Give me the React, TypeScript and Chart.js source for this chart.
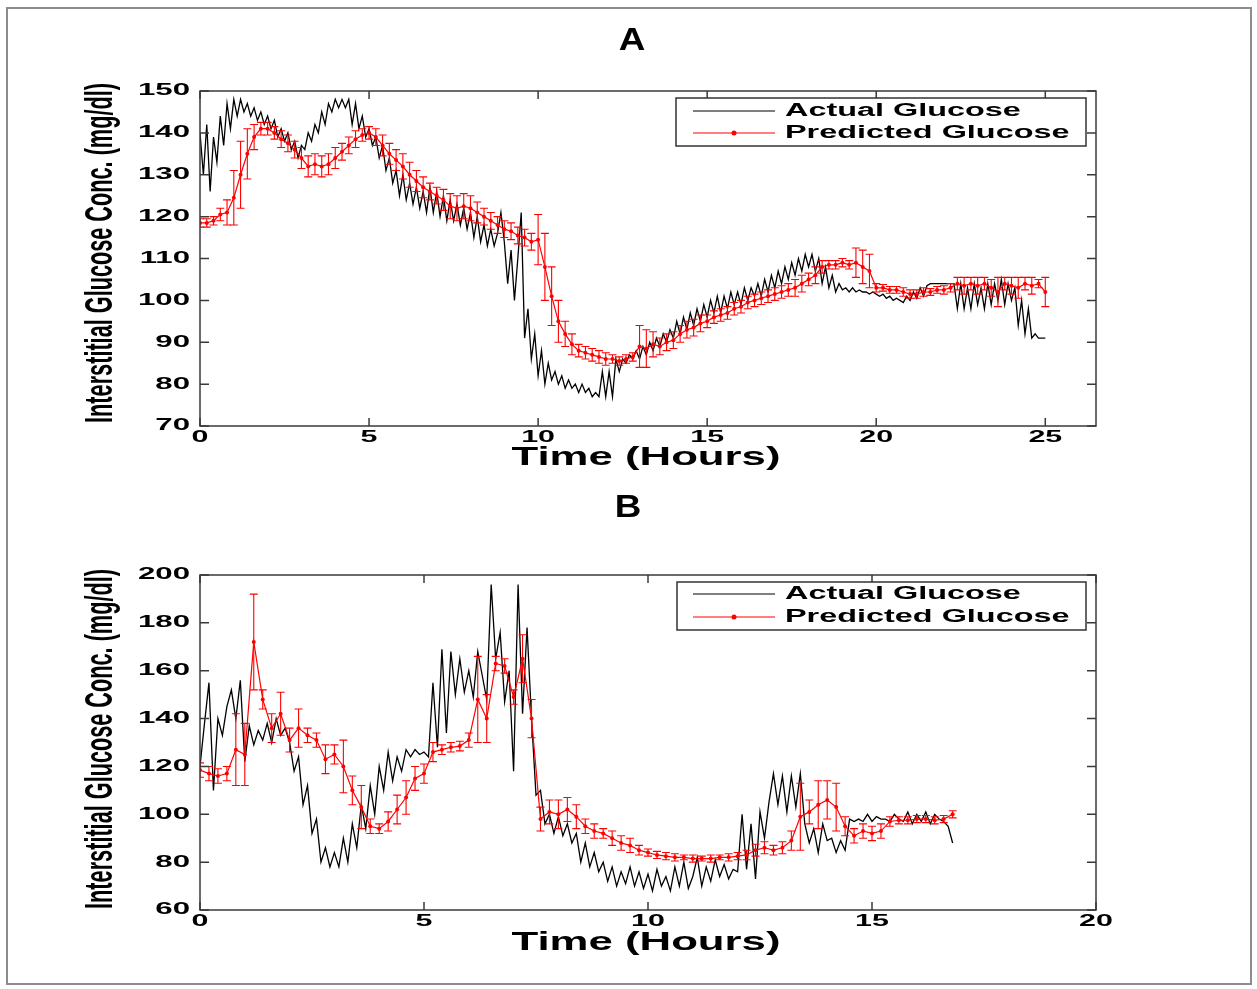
import React, { useEffect, useRef } from "react";
import { Chart, registerables } from "chart.js";

Chart.register(...registerables);

// ---------------- DATA ----------------
const STEP_ACTUAL = 0.1; // hours between actual samples
const STEP_PRED = 0.2; // hours between predicted samples

const actualA = [
  140, 130, 142, 126, 139, 133, 144, 137, 147, 141,
  148, 144, 148, 145, 147, 144, 146, 143, 145, 142,
  144, 141, 143, 139, 141, 138, 140, 136, 138, 134,
  137, 136, 140, 138, 142, 140, 145, 142, 147, 145,
  148, 146, 148, 146, 148, 142, 147, 141, 144, 139,
  141, 137, 139, 134, 137, 131, 134, 128, 131, 125,
  130, 124, 128, 123, 127, 122, 126, 121, 127, 121,
  126, 120, 125, 119, 124, 119, 123, 118, 122, 117,
  121, 115, 120, 114, 118, 113, 117, 113, 116, 121,
  114, 104, 112, 100, 110, 121, 91, 98, 86, 92,
  82, 88, 80, 85, 81, 83, 80, 82, 79, 81,
  79, 80, 78, 80, 78, 79, 77, 78, 77, 83,
  77, 83, 77, 86, 83, 86, 85, 87, 86, 88,
  86, 89, 87, 90, 88, 91, 89, 92, 90, 93,
  91, 95, 92, 96, 93, 97, 94, 98, 95, 99,
  96, 100, 97, 101, 97, 101, 98, 102, 99, 102,
  99, 103, 100, 103, 101, 104, 101, 105, 102, 106,
  103, 107, 104, 108, 105, 109, 106, 110, 107, 111,
  108, 111, 107, 110, 104, 108, 103, 106, 102, 104,
  102.5, 103, 102, 103, 102, 102.5, 102, 102, 101.5, 102,
  101.5, 101, 101.5, 100.5, 101, 100, 100.5, 100, 99.5, 101,
  100, 102, 100.5, 103, 101, 103.5, 104, 104, 104, 104,
  104, 104, 104, 104, 98, 104, 98, 103, 98, 104,
  99, 103, 98, 104, 99, 104, 100, 105, 99, 104,
  100, 103, 94, 100, 92, 98, 91, 92, 91, 91,
  91,
];

const predA = [
  118.5, 118.5, 119, 120.5, 121, 124.5, 130, 135, 139, 141,
  141, 140, 138.5, 137.5, 136, 134, 132, 132.5, 132, 132.5,
  134, 135.5, 137, 138.5, 139.5, 140, 139, 137, 135, 133.5,
  132, 130, 128.5, 127, 126, 125, 124, 122.5, 122, 122.5,
  122, 121, 120, 119, 118, 117, 116.5, 115.5, 115, 114,
  114.5, 108, 101, 95, 92, 89.5, 88, 87.5, 87, 86.5,
  86, 86, 85.5, 86, 86.5, 89, 88.5, 89.5, 89, 90,
  90.5, 92, 93, 93.5, 94.5, 95, 96, 96.5, 97, 98,
  98.5, 99.5, 100, 100.5, 101, 101.5, 102, 102.5, 103, 104,
  105, 106, 108, 108.5, 108.5, 109, 108.5, 109, 108, 107,
  103, 103, 102.5, 102.5, 102, 101.5, 101.5, 102, 102, 102.5,
  102.5, 103, 104, 103.5, 104, 103.5, 104, 103, 102, 104,
  103.5, 103, 104, 103.5, 104, 102,
];

const errA = [
  1, 1, 1, 1.5, 3, 6.5, 8, 6, 3, 1.5,
  1.5, 1.5, 2, 2, 2, 2.5, 2.5, 2.5, 2.5, 2.5,
  2.5, 2, 2, 2, 1.5, 1.5, 2, 2.5, 2.5, 2.5,
  3, 3, 2.5, 2.5, 2, 2, 2.5, 3, 3, 3,
  3, 2.5, 2, 2, 2, 2, 2, 2, 2, 2,
  6, 8, 7, 5, 3, 2.5, 1.5, 1.5, 1.5, 1.5,
  1.5, 1, 1, 1, 1, 5, 4.5, 3, 2, 2,
  2, 2, 2, 2, 2, 1.5, 1.5, 1.5, 1.5, 1.5,
  1.5, 1.5, 1.5, 1.5, 1.5, 1.5, 1.5, 1.5, 2, 2,
  1.5, 2, 1.5, 1, 1, 1, 1, 3.5, 4, 4,
  1, 0.8, 0.8, 0.8, 1, 1, 1, 1, 0.8, 0.8,
  1, 1, 1.5, 2, 1.5, 2, 1.5, 2, 3.5, 1.5,
  2, 2.5, 1.5, 2, 1, 3.5,
];

const actualB = [
  120, 138, 155, 110, 140, 133, 145, 152, 140, 156,
  122, 137, 129, 135, 131, 138, 130, 140, 133, 136,
  130, 118, 124, 104, 112, 92, 98, 80, 86, 78,
  84, 78, 90, 80, 96, 86, 104, 94, 112, 100,
  120, 110, 126, 114, 124, 118, 127, 124, 127, 125,
  126, 124, 155, 128, 169, 134, 168, 150, 165, 151,
  160, 149, 168, 158, 148, 196, 165, 176, 147, 160,
  118, 196, 142, 178, 140, 108, 110, 96, 100, 92,
  99, 91, 96, 88, 92, 80, 88, 78, 84, 76,
  80, 72, 78, 70, 76, 71, 78, 70, 76, 69,
  75, 68, 77, 70, 74, 68, 78, 70, 80, 69,
  74, 82, 70, 78, 72, 81, 74, 79, 73, 77,
  76, 100, 77, 96, 73, 101, 90, 105, 117, 104,
  116, 101, 116, 103, 117, 96, 88, 94, 84, 96,
  89, 90, 84, 89, 85, 98, 97, 98, 97, 100,
  97, 99, 98, 98, 97, 100, 98, 97, 101, 96,
  100, 97, 101, 96, 100, 98, 97, 95, 88,
];

const predB = [
  118.5, 117, 116, 117, 127, 125, 172, 148, 136, 142,
  131, 136, 133, 131, 123, 125, 120, 110, 103, 95,
  94, 97, 102, 107, 115, 117, 126, 127, 128, 128.5,
  131, 148, 140, 163, 162, 149, 165, 140, 98, 101,
  100, 102, 99, 95, 93, 92, 90, 88, 87, 85,
  84, 83, 82.5, 82, 82, 81.5, 81.5, 81.5, 82, 82,
  82.5, 83, 85, 86, 85, 86, 89, 99, 101, 104,
  106, 103, 95, 91, 93, 92, 93, 97, 97.5, 97.5,
  98, 98, 97.5, 98, 100,
];

const errB = [
  3, 3, 3, 3, 15, 13, 20, 4, 6, 9,
  5, 8, 3, 3, 6, 4, 11, 6, 9, 3,
  2, 4, 6, 7, 5, 4, 4, 2, 2, 2,
  3, 18, 10, 3, 3, 3, 10, 8, 5, 5,
  6, 5, 5, 3, 3, 2, 3, 3, 3, 2,
  1.5, 1.5, 1.5, 1.5, 1, 1.5, 1, 1.5, 1, 1.5,
  1.5, 2, 2.5, 2.5, 2, 2.5, 4, 14, 5, 10,
  8, 10, 4, 3, 3, 3, 3, 2, 1.5, 1.5,
  1.5, 1.5, 1.5, 1.5, 1.5,
];

const xTicksA = [0, 5, 10, 15, 20, 25];
const yTicksA = [70, 80, 90, 100, 110, 120, 130, 140, 150];
const xTicksB = [0, 5, 10, 15, 20];
const yTicksB = [60, 80, 100, 120, 140, 160, 180, 200];

const titleA = "A";
const titleB = "B";
const xAxisLabel = "Time (Hours)";
const yAxisLabel = "Interstitial Glucose Conc. (mg/dl)";
const seriesNames = ["Actual Glucose", "Predicted Glucose"];

// ---------------- LAYOUT ----------------
const FONT = '"Liberation Sans", Arial, Helvetica, sans-serif';
const W = 1257;

type Panel = {
  title: string;
  actual: number[];
  pred: number[];
  err: number[];
  xTicks: number[];
  yTicks: number[];
  xMax: number;
  yMin: number;
  yMax: number;
  top: number;
  height: number;
  pad: { left: number; top: number; right: number; bottom: number };
  titlePos: [number, number];
  xLabelY: number;
  yLabelPos: [number, number];
  legend: { x: number; y: number; w: number; h: number; rows: [number, number] };
};

const panels: Panel[] = [
  {
    title: titleA,
    actual: actualA,
    pred: predA,
    err: errA,
    xTicks: xTicksA,
    yTicks: yTicksA,
    xMax: 26.5,
    yMin: 70,
    yMax: 150,
    top: 0,
    height: 480,
    pad: { left: 200, top: 91, right: W - 1096, bottom: 54 },
    titlePos: [632, 41],
    xLabelY: 458,
    yLabelPos: [101, 253],
    legend: { x: 676, y: 98, w: 410, h: 48, rows: [111, 133] },
  },
  {
    title: titleB,
    actual: actualB,
    pred: predB,
    err: errB,
    xTicks: xTicksB,
    yTicks: yTicksB,
    xMax: 20,
    yMin: 60,
    yMax: 200,
    top: 480,
    height: 509,
    pad: { left: 200, top: 95, right: W - 1096, bottom: 79 },
    titlePos: [628, 28],
    xLabelY: 463,
    yLabelPos: [101, 259],
    legend: { x: 677, y: 102, w: 409, h: 48, rows: [114, 137] },
  },
];

function drawText(
  ctx: CanvasRenderingContext2D,
  text: string,
  x: number,
  y: number,
  font: string,
  sx: number,
  align: CanvasTextAlign,
) {
  ctx.save();
  ctx.translate(x, y);
  ctx.scale(sx, 1);
  ctx.font = font;
  ctx.textAlign = align;
  ctx.textBaseline = "middle";
  ctx.fillStyle = "#000";
  ctx.fillText(text, 0, 0);
  ctx.restore();
}

function PanelChart({ p }: { p: Panel }) {
  const ref = useRef<HTMLCanvasElement>(null);

  useEffect(() => {
    const canvas = ref.current;
    if (!canvas) return;

    const errPlugin = {
      id: "errbars",
      afterDatasetsDraw(chart: any) {
        const { ctx, chartArea } = chart;
        const xs = chart.scales.x;
        const ys = chart.scales.y;
        ctx.save();
        ctx.beginPath();
        ctx.rect(chartArea.left, chartArea.top, chartArea.right - chartArea.left, chartArea.bottom - chartArea.top);
        ctx.clip();
        ctx.strokeStyle = "#ff0000";
        ctx.lineWidth = 1.1;
        p.pred.forEach((v, i) => {
          const e = p.err[i];
          const px = xs.getPixelForValue(i * STEP_PRED);
          const y1 = ys.getPixelForValue(v - e);
          const y2 = ys.getPixelForValue(v + e);
          ctx.beginPath();
          ctx.moveTo(px, y1);
          ctx.lineTo(px, y2);
          ctx.moveTo(px - 4, y1);
          ctx.lineTo(px + 4, y1);
          ctx.moveTo(px - 4, y2);
          ctx.lineTo(px + 4, y2);
          ctx.stroke();
        });
        ctx.restore();
      },
    };

    const decoPlugin = {
      id: "deco",
      afterDraw(chart: any) {
        const { ctx, chartArea } = chart;
        const xs = chart.scales.x;
        const ys = chart.scales.y;
        const { left, top, right, bottom } = chartArea;
        ctx.save();
        // axes box
        ctx.strokeStyle = "#3a3a3a";
        ctx.lineWidth = 1.5;
        ctx.strokeRect(left, top, right - left, bottom - top);
        // inward ticks
        ctx.beginPath();
        p.xTicks.forEach((t) => {
          const px = xs.getPixelForValue(t);
          ctx.moveTo(px, bottom);
          ctx.lineTo(px, bottom - 8);
          ctx.moveTo(px, top);
          ctx.lineTo(px, top + 8);
        });
        p.yTicks.forEach((v) => {
          const py = ys.getPixelForValue(v);
          ctx.moveTo(left, py);
          ctx.lineTo(left + 9, py);
          ctx.moveTo(right, py);
          ctx.lineTo(right - 9, py);
        });
        ctx.stroke();

        // tick labels
        const tickFont = `bold 16px ${FONT}`;
        p.xTicks.forEach((t) => {
          drawText(ctx, String(t), xs.getPixelForValue(t), bottom + 12, tickFont, 1.9, "center");
        });
        p.yTicks.forEach((v) => {
          drawText(ctx, String(v), left - 10, ys.getPixelForValue(v), tickFont, 1.95, "right");
        });

        // x axis label
        drawText(ctx, xAxisLabel, 646, p.xLabelY, `bold 25px ${FONT}`, 1.75, "center");

        // y axis label (rotated, condensed look)
        ctx.save();
        ctx.translate(p.yLabelPos[0], p.yLabelPos[1]);
        ctx.rotate(-Math.PI / 2);
        ctx.scale(1, 1.8);
        ctx.font = `bold 21.7px ${FONT}`;
        ctx.textAlign = "center";
        ctx.textBaseline = "middle";
        ctx.fillStyle = "#000";
        ctx.fillText(yAxisLabel, 0, 0);
        ctx.restore();

        // title
        drawText(ctx, p.title, p.titlePos[0], p.titlePos[1], `bold 32px ${FONT}`, 1.15, "center");

        // legend
        const L = p.legend;
        ctx.fillStyle = "#fff";
        ctx.fillRect(L.x, L.y, L.w, L.h);
        ctx.strokeStyle = "#333";
        ctx.lineWidth = 1.5;
        ctx.strokeRect(L.x, L.y, L.w, L.h);
        ctx.lineWidth = 1.2;
        ctx.strokeStyle = "#000";
        ctx.beginPath();
        ctx.moveTo(693, L.rows[0]);
        ctx.lineTo(775, L.rows[0]);
        ctx.stroke();
        ctx.strokeStyle = "#ff0000";
        ctx.beginPath();
        ctx.moveTo(693, L.rows[1]);
        ctx.lineTo(775, L.rows[1]);
        ctx.stroke();
        ctx.fillStyle = "#ff0000";
        ctx.beginPath();
        ctx.arc(734, L.rows[1], 2.5, 0, Math.PI * 2);
        ctx.fill();
        const legFont = `bold 18px ${FONT}`;
        drawText(ctx, seriesNames[0], 785, L.rows[0], legFont, 1.8, "left");
        drawText(ctx, seriesNames[1], 785, L.rows[1], legFont, 1.8, "left");
        ctx.restore();
      },
    };

    const chart = new Chart(canvas, {
      type: "line",
      data: {
        datasets: [
          {
            label: seriesNames[0],
            data: p.actual.map((v, i) => ({ x: i * STEP_ACTUAL, y: v })),
            borderColor: "#000000",
            borderWidth: 1.3,
            pointRadius: 0,
            tension: 0,
            order: 2,
          },
          {
            label: seriesNames[1],
            data: p.pred.map((v, i) => ({ x: i * STEP_PRED, y: v })),
            borderColor: "#ff0000",
            backgroundColor: "#ff0000",
            borderWidth: 1.2,
            pointRadius: 2,
            pointBorderWidth: 0,
            pointBackgroundColor: "#ff0000",
            tension: 0,
            order: 1,
          },
        ],
      },
      options: {
        responsive: false,
        animation: false,
        events: [],
        layout: { padding: p.pad },
        plugins: {
          legend: { display: false },
          title: { display: false },
          tooltip: { enabled: false },
        },
        scales: {
          x: { type: "linear", display: false, min: 0, max: p.xMax },
          y: { type: "linear", display: false, min: p.yMin, max: p.yMax },
        },
      },
      plugins: [errPlugin, decoPlugin],
    } as any);

    return () => chart.destroy();
  }, [p]);

  return (
    <canvas
      ref={ref}
      width={W}
      height={p.height}
      style={{ position: "absolute", left: 0, top: p.top, width: W, height: p.height }}
    />
  );
}

export default function App() {
  return (
    <div
      style={{
        position: "absolute",
        left: 0,
        top: 0,
        width: W,
        height: 989,
        background: "#fff",
        overflow: "hidden",
      }}
    >
      <div
        style={{
          position: "absolute",
          left: 6,
          top: 7,
          width: 1246,
          height: 978,
          border: "2px solid #8c8c8c",
          boxSizing: "border-box",
        }}
      />
      {panels.map((p, i) => (
        <PanelChart key={i} p={p} />
      ))}
    </div>
  );
}
